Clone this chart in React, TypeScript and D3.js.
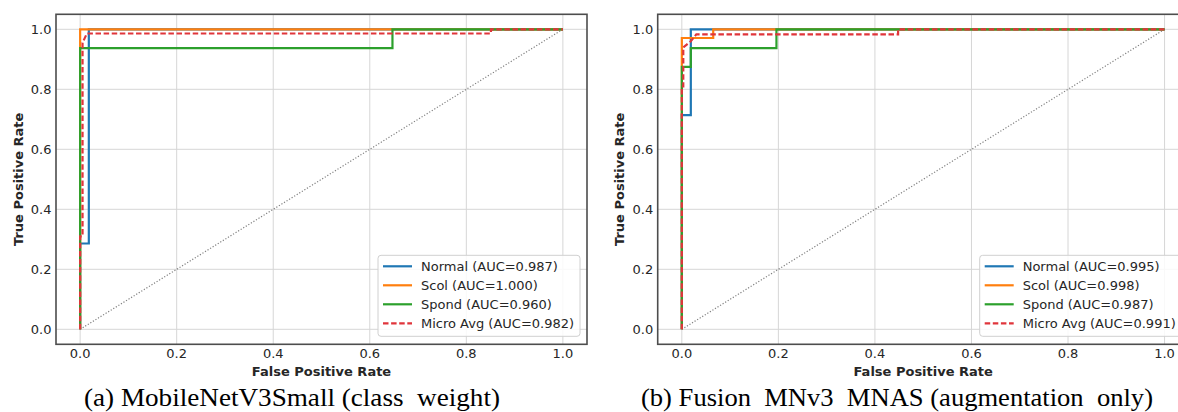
import React from 'react'
import * as d3 from 'd3'

// ROC points (fpr, tpr)
const normalA = { fpr: [0, 0, 0.018, 0.018, 1], tpr: [0, 0.286, 0.286, 1, 1] }
const scolA = { fpr: [0, 0, 1], tpr: [0, 1, 1] }
const spondA = { fpr: [0, 0, 0.647, 0.647, 1], tpr: [0, 0.9375, 0.9375, 1, 1] }
const microA = {
  fpr: [0, 0, 0.005, 0.005, 0.014, 0.851, 0.851, 1],
  tpr: [0, 0.31, 0.31, 0.955, 0.986, 0.986, 1, 1],
}

const normalB = { fpr: [0, 0, 0.0186, 0.0186, 1], tpr: [0, 0.714, 0.714, 1, 1] }
const scolB = { fpr: [0, 0, 0.065, 0.065, 1], tpr: [0, 0.971, 0.971, 1, 1] }
const spondB = {
  fpr: [0, 0, 0.0186, 0.0186, 0.196, 0.196, 1],
  tpr: [0, 0.875, 0.875, 0.9375, 0.9375, 1, 1],
}
const microB = {
  fpr: [0, 0, 0.003, 0.003, 0.0186, 0.03, 0.448, 0.448, 1],
  tpr: [0, 0.81, 0.81, 0.94, 0.96, 0.983, 0.983, 1, 1],
}

const aucA = ['0.987', '1.000', '0.960', '0.982']
const aucB = ['0.995', '0.998', '0.987', '0.991']
const classNames = ['Normal', 'Scol', 'Spond', 'Micro Avg']
const ticks = [0, 0.2, 0.4, 0.6, 0.8, 1.0]

const colors = ['#1f77b4', '#ff7f0e', '#2ca02c', '#e0353b']
const font = '"DejaVu Sans", sans-serif'
const textColor = '#262626'

type Curve = { fpr: number[]; tpr: number[] }

const panels = [
  {
    id: 'a',
    left: 56,
    curves: [normalA, scolA, spondA, microA],
    auc: aucA,
    caption: '(a) MobileNetV3Small (class  weight)',
    capX: 84,
    capW: 416,
  },
  {
    id: 'b',
    left: 657.7,
    curves: [normalB, scolB, spondB, microB],
    auc: aucB,
    caption: '(b) Fusion  MNv3  MNAS (augmentation  only)',
    capX: 641,
    capW: 512,
  },
]

const Panel = ({ p }: { p: (typeof panels)[number] }) => {
  const right = p.left + 531
  const top = 14.3
  const bottom = 344.3
  const x = d3.scaleLinear().domain([-0.05, 1.05]).range([p.left, right])
  const y = d3.scaleLinear().domain([-0.05, 1.05]).range([bottom, top])
  const line = d3
    .line<[number, number]>()
    .x((d) => x(d[0]))
    .y((d) => y(d[1]))
  const pts = (c: Curve) => c.fpr.map((f, i) => [f, c.tpr[i]] as [number, number])

  const legW = 202
  const legH = 81
  const legX = right - 7 - legW
  const legY = bottom - 8 - legH

  return (
    <g>
      <defs>
        <clipPath id={`clip-${p.id}`}>
          <rect x={p.left} y={top} width={right - p.left} height={bottom - top} />
        </clipPath>
      </defs>
      {ticks.map((t) => (
        <g key={`g${t}`} stroke="#d6d6d6" strokeWidth={1}>
          <line x1={x(t)} x2={x(t)} y1={top} y2={bottom} />
          <line x1={p.left} x2={right} y1={y(t)} y2={y(t)} />
        </g>
      ))}
      <g clipPath={`url(#clip-${p.id})`}>
        <path
          d={line([[0, 0], [1, 1]]) || ''}
          fill="none"
          stroke="#808080"
          strokeWidth={1.2}
          strokeDasharray="1.2,1.8"
        />
        {p.curves.map((c, i) => (
          <path
            key={i}
            d={line(pts(c)) || ''}
            fill="none"
            stroke={colors[i]}
            strokeWidth={2.2}
            strokeDasharray={i === 3 ? '5.5,2.6' : undefined}
          />
        ))}
      </g>
      <rect
        x={p.left}
        y={top}
        width={right - p.left}
        height={bottom - top}
        fill="none"
        stroke="#4d4d4d"
        strokeWidth={1.6}
      />
      {ticks.map((t) => (
        <text
          key={`x${t}`}
          x={x(t)}
          y={358}
          textAnchor="middle"
          fontFamily={font}
          fontSize={13}
          fill={textColor}
        >
          {t.toFixed(1)}
        </text>
      ))}
      {ticks.map((t) => (
        <text
          key={`y${t}`}
          x={p.left - 4.5}
          y={y(t) + 4.7}
          textAnchor="end"
          fontFamily={font}
          fontSize={13}
          fill={textColor}
        >
          {t.toFixed(1)}
        </text>
      ))}
      <text
        x={(p.left + right) / 2}
        y={376}
        textAnchor="middle"
        fontFamily={font}
        fontSize={13}
        fontWeight="bold"
        fill={textColor}
      >
        False Positive Rate
      </text>
      <text
        transform={`translate(${p.left - 33.5},${(top + bottom) / 2}) rotate(-90)`}
        textAnchor="middle"
        fontFamily={font}
        fontSize={13}
        fontWeight="bold"
        fill={textColor}
      >
        True Positive Rate
      </text>
      <rect
        x={legX}
        y={legY}
        width={legW}
        height={legH}
        rx={3}
        fill="white"
        fillOpacity={0.85}
        stroke="#d0d0d0"
        strokeWidth={1}
      />
      {classNames.map((name, i) => {
        const ry = legY + 11 + i * 19
        return (
          <g key={name}>
            <line
              x1={legX + 5}
              x2={legX + 34}
              y1={ry}
              y2={ry}
              stroke={colors[i]}
              strokeWidth={2.2}
              strokeDasharray={i === 3 ? '5.5,2.6' : undefined}
            />
            <text
              x={legX + 43}
              y={ry + 4.6}
              fontFamily={font}
              fontSize={13}
              fill={textColor}
            >
              {`${name} (AUC=${p.auc[i]})`}
            </text>
          </g>
        )
      })}
      <text
        x={p.capX}
        y={406}
        fontFamily='"Liberation Serif", "Times New Roman", serif'
        fontSize={25}
        fill="#000"
        textLength={p.capW}
        lengthAdjust="spacingAndGlyphs"
        style={{ whiteSpace: 'pre' }}
      >
        {p.caption}
      </text>
    </g>
  )
}

const App = () => (
  <svg
    width={1178}
    height={412}
    style={{ position: 'absolute', left: 0, top: 0, background: 'white' }}
  >
    <rect width={1178} height={412} fill="white" />
    {panels.map((p) => (
      <Panel key={p.id} p={p} />
    ))}
  </svg>
)

export default App
